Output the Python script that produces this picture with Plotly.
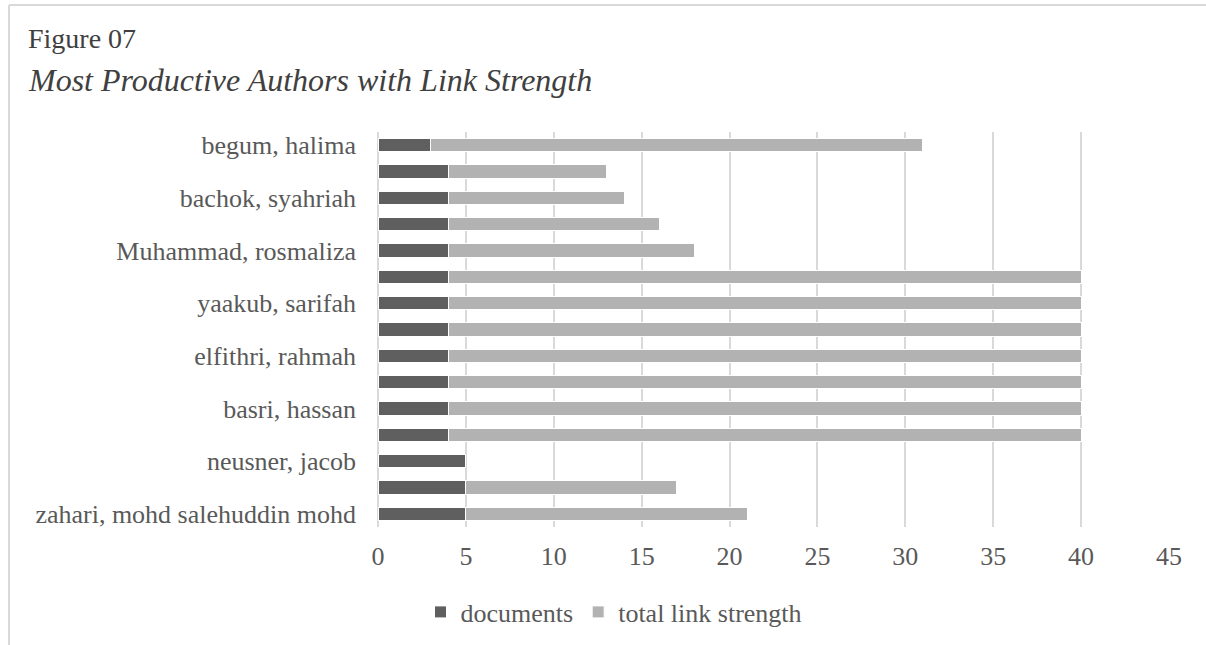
import plotly.graph_objects as go

# Data (top to bottom as shown in the chart); unlabeled rows have no visible name
authors = [
    "begum, halima", None, "bachok, syahriah", None, "Muhammad, rosmaliza", None,
    "yaakub, sarifah", None, "elfithri, rahmah", None, "basri, hassan", None,
    "neusner, jacob", None, "zahari, mohd salehuddin mohd",
]
documents = [3, 4, 4, 4, 4, 4, 4, 4, 4, 4, 4, 4, 5, 5, 5]
total_link_strength = [28, 9, 10, 12, 14, 36, 36, 36, 36, 36, 36, 36, 0, 12, 16]
x_ticks = [0, 5, 10, 15, 20, 25, 30, 35, 40, 45]

pos = list(range(len(authors)))
tickvals = [i for i, a in enumerate(authors) if a]
ticktext = [a for a in authors if a]

W, H = 1206, 645
L, R, T, B = 378, 37, 132, 118
pw, ph = W - L - R, H - T - B

def px(xp):
    return (xp - L) / pw

def py(yp):
    return (H - B - yp) / ph

FONT = "Liberation Serif, Times New Roman, serif"
TXT = "#595959"

fig = go.Figure()
fig.add_trace(go.Bar(
    y=pos, x=documents, orientation="h", name="documents",
    marker=dict(color="#5f5f5f", line=dict(color="white", width=1)),
    width=0.5,
))
fig.add_trace(go.Bar(
    y=pos, x=total_link_strength, orientation="h", name="total link strength",
    marker=dict(color="#b2b2b2", line=dict(color="white", width=1)),
    width=0.5,
))

fig.update_layout(
    width=W, height=H,
    margin=dict(l=L, r=R, t=T, b=B, autoexpand=False),
    barmode="stack",
    plot_bgcolor="white", paper_bgcolor="white",
    font=dict(family=FONT, size=26, color=TXT),
    showlegend=True,
    legend=dict(orientation="h", x=px(614), xanchor="center", y=py(612), yanchor="middle",
                font=dict(family=FONT, size=26, color=TXT), traceorder="normal",
                itemwidth=30),
    xaxis=dict(range=[0, 45], tickvals=x_ticks, showgrid=True, gridcolor="#d9d9d9",
               gridwidth=1.5, zeroline=True, zerolinecolor="#d9d9d9", zerolinewidth=1.5,
               showline=False, ticks="", ticklabelstandoff=11,
               tickfont=dict(family=FONT, size=26, color=TXT)),
    yaxis=dict(range=[len(authors) - 0.5, -0.5], tickvals=tickvals, ticktext=ticktext,
               showgrid=False, zeroline=False, showline=False, ticks="",
               ticklabelstandoff=21,
               tickfont=dict(family=FONT, size=26, color=TXT)),
    annotations=[
        dict(text="Figure 07", xref="paper", yref="paper", x=px(26), y=py(38),
             xanchor="left", yanchor="middle", showarrow=False,
             font=dict(family=FONT, size=28, color="#404040")),
        dict(text="<i>Most Productive Authors with Link Strength</i>", xref="paper",
             yref="paper", x=px(26), y=py(80), xanchor="left", yanchor="middle",
             showarrow=False, font=dict(family=FONT, size=32, color="#404040")),
    ],
    shapes=[
        dict(type="line", xref="paper", yref="paper", x0=px(9), x1=px(1206),
             y0=py(5), y1=py(5), line=dict(color="#d9d9d9", width=2)),
        dict(type="line", xref="paper", yref="paper", x0=px(9), x1=px(9),
             y0=py(5), y1=py(645), line=dict(color="#d9d9d9", width=2)),
    ],
)

fig.write_html("out.html")
